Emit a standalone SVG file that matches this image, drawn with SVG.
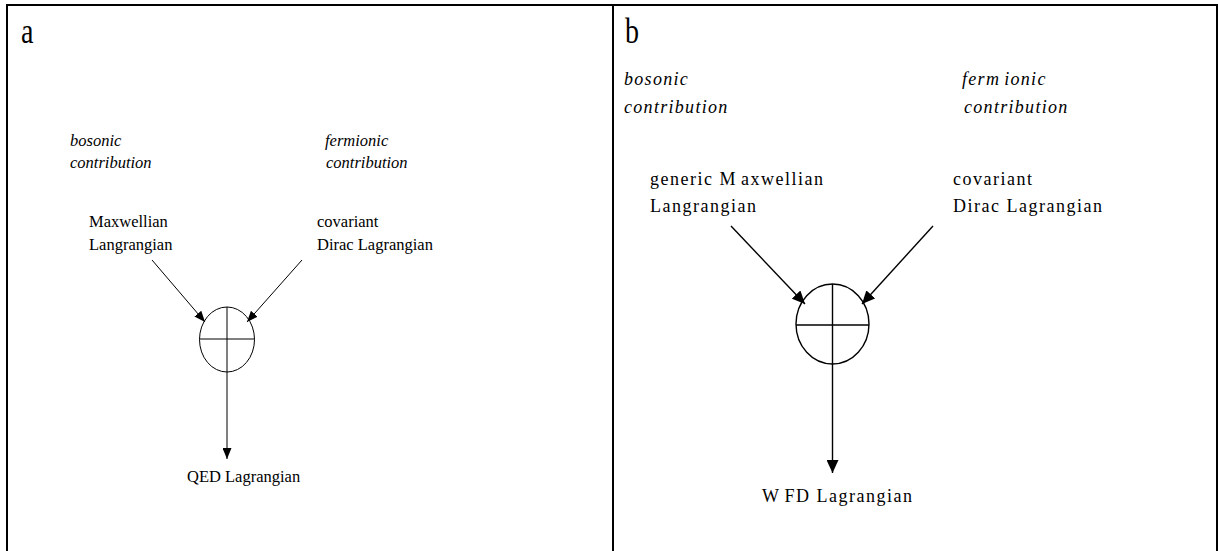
<svg xmlns="http://www.w3.org/2000/svg" width="1218" height="551" viewBox="0 0 1218 551">
  <style>
    .frame { fill: none; stroke: #000; stroke-width: 2; }
    .ln { fill: none; stroke: #000; stroke-width: 1; }
    .lnb { fill: none; stroke: #000; stroke-width: 1.4; }
    text { font-family: "Liberation Serif", "Times New Roman", serif; fill: #000; }
    .lbl { font-size: 28px; }
    .ta { font-size: 16.5px; }
    .tai { font-size: 16.5px; font-style: italic; }
    .tb { font-size: 18px; letter-spacing: 1.5px; }
    .tbi { font-size: 18px; font-style: italic; letter-spacing: 1.3px; }
  </style>
  <defs>
    <marker id="ah" markerUnits="userSpaceOnUse" markerWidth="11" markerHeight="9" refX="11" refY="4.5" orient="auto">
      <path d="M0,0 L11,4.5 L0,9 z" fill="#000"/>
    </marker>
    <marker id="ahb" markerUnits="userSpaceOnUse" markerWidth="13" markerHeight="12" refX="13" refY="6" orient="auto">
      <path d="M0,0 L13,6 L0,12 z" fill="#000"/>
    </marker>
  </defs>
  <rect width="1218" height="551" fill="#fff"/>
  <g id="frame">
    <path class="frame" d="M7,551 V5 H1217 V551 M613,5 V551"/>
  </g>

  <!-- Panel a -->
  <g id="panel-a-label"><text class="lbl" transform="translate(21,43) scale(1,1.25)">a</text></g>
  <g id="a-bosonic"><text class="tai" x="70" y="146">bosonic</text><text class="tai" x="70" y="168">contribution</text></g>
  <g id="a-fermionic"><text class="tai" x="325" y="146">fermionic</text><text class="tai" x="326" y="168">contribution</text></g>
  <g id="a-maxwellian"><text class="ta" x="89" y="227">Maxwellian</text><text class="ta" x="89" y="250">Langrangian</text></g>
  <g id="a-dirac"><text class="ta" x="317" y="227">covariant</text><text class="ta" x="317" y="250">Dirac Lagrangian</text></g>
  <g id="a-sum">
    <ellipse class="ln" cx="227" cy="339.5" rx="27.5" ry="32.5"/>
    <line class="ln" x1="199.5" y1="339" x2="254.5" y2="339"/>
    <line class="ln" x1="227" y1="307" x2="227" y2="372"/>
  </g>
  <g id="a-qed"><text class="ta" x="187" y="482">QED Lagrangian</text></g>

  <!-- Panel b -->
  <g id="panel-b-label"><text class="lbl" transform="translate(625,43) scale(1,1.25)">b</text></g>
  <g id="b-bosonic"><text class="tbi" x="624" y="85">bosonic</text><text class="tbi" x="624" y="113">contribution</text></g>
  <g id="b-fermionic"><text class="tbi" x="962" y="85">ferm<tspan dx="4">ionic</tspan></text><text class="tbi" x="964" y="113">contribution</text></g>
  <g id="b-maxwellian"><text class="tb" x="650" y="185">generic M<tspan dx="4">axwellian</tspan></text><text class="tb" x="650" y="212">Langrangian</text></g>
  <g id="b-dirac"><text class="tb" x="953" y="185">covariant</text><text class="tb" x="953" y="212">Dirac Lagrangian</text></g>
  <g id="b-sum">
    <ellipse class="lnb" cx="832.5" cy="324" rx="36.5" ry="40"/>
    <line class="lnb" x1="796" y1="325" x2="869" y2="325"/>
    <line class="lnb" x1="832.5" y1="284" x2="832.5" y2="364"/>
  </g>
  <g id="b-wfd"><text class="tb" x="762" y="502">W<tspan dx="4">FD Lagrangian</tspan></text></g>

  <g id="connectors">
    <line class="ln" x1="152" y1="260" x2="205" y2="322" marker-end="url(#ah)"/>
    <line class="ln" x1="302" y1="260" x2="247" y2="322" marker-end="url(#ah)"/>
    <line class="ln" x1="227" y1="372" x2="227" y2="459" marker-end="url(#ah)"/>
    <line class="lnb" x1="731" y1="226" x2="805" y2="304" marker-end="url(#ahb)"/>
    <line class="lnb" x1="933" y1="226" x2="862" y2="304" marker-end="url(#ahb)"/>
    <line class="lnb" x1="832.5" y1="364" x2="832.5" y2="473" marker-end="url(#ahb)"/>
  </g>
</svg>
